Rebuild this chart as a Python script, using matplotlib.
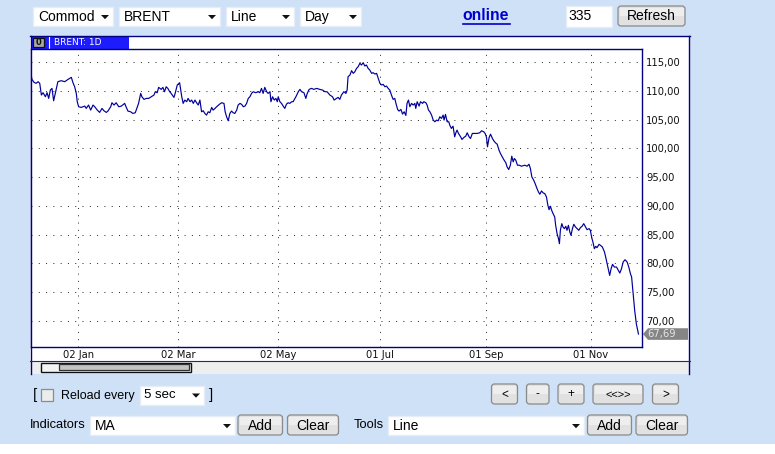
import matplotlib
matplotlib.use("Agg")
import matplotlib.pyplot as plt
from matplotlib.patches import Rectangle, FancyBboxPatch, Polygon

plt.rcParams["font.family"] = ["Liberation Sans", "DejaVu Sans"]
CHART_FONT = ["DejaVu Sans"]

# ---- data: BRENT daily close, x = trading session index in the window ----
SESSION = [
    0.0, 0.4, 1.3, 2.2, 3.0, 3.7, 4.4, 5.1, 6.1, 6.8, 7.5, 8.2, 8.9, 9.6, 10.3, 11.4,
    12.8, 14.3, 15.7, 17.1, 17.8, 18.5, 19.2, 19.6, 20.2, 21.3, 22.8, 23.4, 24.4, 25.3,
    26.3, 27.0, 28.1, 29.1, 30.1, 30.9, 31.9, 32.6, 33.8, 34.3, 35.2, 36.1, 37.2, 38.3,
    39.7, 40.4, 41.1, 42.2, 43.2, 44.2, 45.0, 45.6, 46.5, 47.0, 47.9, 48.9, 49.9, 51.0,
    52.1, 52.7, 53.5, 54.1, 55.2, 55.9, 56.6, 57.3, 58.0, 58.8, 59.4, 60.6, 61.1, 62.0,
    63.0, 63.9, 64.5, 65.2, 66.0, 66.6, 67.4, 68.1, 68.8, 69.5, 70.2, 70.9, 71.6, 72.3,
    73.0, 73.7, 74.4, 75.1, 75.8, 76.6, 77.2, 78.0, 78.7, 79.8, 80.8, 81.8, 82.3, 82.9,
    83.6, 84.3, 85.0, 85.7, 86.4, 87.2, 87.8, 88.6, 89.3, 90.0, 90.7, 91.4, 92.1, 92.8,
    93.5, 94.2, 95.3, 96.3, 97.0, 97.7, 98.4, 99.1, 99.9, 100.5, 101.3, 101.7, 102.4,
    103.1, 103.8, 104.4, 104.8, 105.5, 106.2, 106.9, 107.6, 108.3, 109.0, 109.7, 110.5,
    111.1, 112.3, 113.3, 114.0, 114.7, 115.7, 116.5, 117.1, 117.9, 118.9, 119.9, 121.1,
    122.4, 123.6, 124.6, 125.5, 126.7, 127.8, 128.5, 129.5, 130.2, 130.9, 131.6, 132.6,
    133.5, 134.0, 134.4, 135.2, 135.9, 136.6, 137.3, 138.0, 138.7, 139.4, 140.1, 140.8,
    141.5, 142.2, 142.9, 143.6, 144.4, 145.0, 145.8, 146.5, 147.2, 147.9, 148.6, 149.3,
    150.0, 150.7, 151.4, 152.1, 152.8, 153.5, 154.2, 154.7, 155.4, 156.0, 156.8, 157.5,
    158.2, 158.9, 159.4, 160.0, 160.6, 161.3, 162.0, 162.7, 163.1, 163.7, 164.5, 165.1,
    166.0, 166.5, 167.4, 167.9, 168.5, 169.1, 169.8, 170.5, 171.2, 171.9, 172.6, 173.3,
    174.0, 174.7, 175.1, 175.7, 176.4, 177.1, 177.5, 178.2, 178.9, 179.6, 180.1, 180.6,
    181.2, 182.1, 182.7, 183.5, 184.3, 184.9, 185.7, 186.3, 187.1, 188.1, 189.1, 190.2,
    191.0, 191.9, 192.5, 193.1, 193.5, 194.2, 194.8, 195.6, 196.2, 196.9, 197.6, 198.4,
    199.0, 199.9, 200.4, 201.3, 201.8, 202.5, 203.2, 203.8, 204.4, 204.9, 205.5, 206.2,
    206.9, 207.9, 209.3, 210.3, 211.1, 211.7, 212.3, 213.1, 213.7, 214.5, 215.1, 215.7,
    216.4, 217.1, 217.8, 218.5, 219.1, 219.6, 220.2, 220.7, 221.3, 222.0, 222.4, 223.0,
    223.6, 224.0, 224.4, 225.0, 225.5, 226.1, 226.7, 227.2, 227.8, 228.4, 228.9, 229.5,
    230.1, 230.8, 231.5, 232.2, 232.9, 233.6, 234.3, 235.2, 235.7, 236.6, 237.1, 237.7,
    238.2, 238.8, 239.4, 239.9, 240.8, 241.4, 242.2, 243.1, 243.6, 244.2, 244.8, 245.3,
    245.9, 246.5, 247.3, 248.2, 249.0, 249.6, 250.3, 251.0, 251.8, 252.7, 253.4, 254.1,
    254.6, 255.2, 255.9, 256.6, 257.5,
]
PRICE = [
    112.96, 112.03, 111.51, 111.34, 111.63, 111.34, 109.30, 109.71, 109.01, 109.71,
    108.72, 110.17, 110.46, 108.31, 109.59, 111.63, 111.80, 111.63, 112.03, 112.38,
    111.45, 110.75, 109.59, 108.14, 107.27, 107.15, 107.38, 106.98, 107.56, 106.68,
    107.56, 107.27, 106.68, 106.28, 106.98, 106.57, 106.28, 106.51, 107.27, 107.96,
    107.56, 107.96, 107.27, 107.38, 107.85, 107.15, 106.51, 106.39, 106.10, 106.22,
    107.15, 107.85, 109.59, 109.01, 108.55, 108.72, 108.72, 109.01, 109.30, 109.88,
    109.71, 110.64, 110.29, 110.64, 109.88, 110.75, 110.46, 109.88, 109.59, 108.89,
    109.59, 111.05, 111.45,
    109.01, 107.85, 108.43, 108.14, 108.72, 108.14, 108.43, 107.85, 108.43, 107.96,
    107.56, 108.43, 106.39, 106.57, 106.10, 105.81, 106.39, 106.22, 107.15, 106.68,
    106.98, 107.27, 107.67, 107.96, 107.85, 106.39, 105.52, 104.82, 106.10, 106.51,
    106.22, 106.10, 106.68, 107.56, 107.85, 107.67, 107.27, 107.38, 107.85, 108.72,
    109.01, 109.59, 109.88, 109.71, 109.88, 109.71, 110.46, 109.59, 110.64, 109.88,
    109.59, 109.88, 108.14, 109.01, 108.43, 108.72, 108.14, 109.01, 108.14, 107.85,
    107.38, 106.98, 107.73, 107.96, 107.85, 108.14, 108.14, 109.01, 109.88, 110.29,
    109.88, 109.71, 108.72, 109.59, 110.29, 110.46, 110.29, 110.46, 110.29, 110.17,
    109.88, 109.88, 109.30, 109.01, 108.43, 108.72, 108.89,
    108.55, 109.30, 109.88, 109.59, 110.17, 112.50, 112.79, 113.55, 113.08, 113.37,
    113.95, 114.24, 114.83, 114.53, 114.94, 114.36, 114.53, 113.95, 113.66, 113.08,
    113.20, 112.96, 113.08, 112.21, 111.34, 111.05, 111.16, 110.75, 110.87, 110.46,
    110.17, 109.30, 108.55, 108.72, 107.85, 106.80, 106.51, 106.80, 105.99, 106.39,
    105.75, 107.85, 108.43, 107.27, 107.85, 107.56, 107.85, 106.98, 108.14, 107.38,
    108.14, 107.85, 108.14, 107.96, 107.56, 106.68, 106.39, 105.81, 104.94, 104.65,
    104.94, 104.82, 105.52, 105.23, 105.81, 104.94, 105.93, 104.65, 104.65, 104.07,
    103.49, 103.89, 102.03, 102.73, 103.20, 102.62, 102.03, 101.57, 101.92, 102.15,
    102.73, 102.03, 101.74, 102.62, 102.62, 102.62, 102.73, 103.08, 102.91, 102.62,
    101.92, 100.29, 101.92,
    102.49, 101.74, 101.33, 100.98, 100.75, 99.70, 99.12, 98.42, 98.07, 97.49, 96.80,
    96.33, 97.09, 98.66, 97.67, 98.25, 97.96, 97.09, 97.09, 96.91, 97.09, 96.91, 97.26,
    96.50, 95.05, 94.47, 93.89, 93.01, 92.43, 92.03, 92.61, 92.26, 92.14, 91.56, 90.11,
    89.35, 89.94, 89.24, 88.66, 88.07, 86.62, 85.17, 84.30, 83.42, 85.75, 86.91, 86.33,
    86.04, 86.45, 85.75, 86.62, 85.46, 84.88, 86.04, 86.80, 86.33, 86.04, 85.75, 86.22,
    86.45, 86.91, 86.22, 85.87, 86.04, 85.75, 84.47, 83.71, 82.55, 82.96, 82.73, 83.31,
    83.13, 82.84, 81.97, 81.10, 79.94, 78.77, 77.90, 79.06, 79.82, 79.35, 79.35, 78.77,
    78.31, 79.06, 80.23, 80.63, 80.23, 79.35, 78.19, 77.61, 75.00, 71.80, 69.47, 67.69,
]
TICK_SESSION = [20.0, 62.4, 104.8, 147.9, 193.0, 237.3]
TICK_LABEL = ["02 Jan", "02 Mar", "02 May", "01 Jul", "01 Sep", "01 Nov"]
Y_TICKS = [70, 75, 80, 85, 90, 95, 100, 105, 110, 115]
SYMBOL = "BRENT: 1D"

W, H = 775, 454
BG = "#cfe1f7"
NAVY = "#000080"
LINE = "#00009a"
TAB = "#1c1cff"

fig = plt.figure(figsize=(W / 100, H / 100), dpi=100, facecolor=BG)
bg = fig.add_axes([0, 0, 1, 1])
bg.set_xlim(0, W); bg.set_ylim(H, 0); bg.axis("off")
bg.add_patch(Rectangle((0, 444), W, 10, fc="white", ec="none"))


def select(x0, x1, y0, y1, label, fs=10):
    bg.add_patch(Rectangle((x0, y0), x1 - x0, y1 - y0, fc="white", ec="#e6edf6", lw=1))
    bg.text(x0 + 5, (y0 + y1) / 2 + 0.5, label, fontsize=fs, va="center", ha="left")
    ax_ = x1 - 8
    ym = (y0 + y1) / 2 + 0.5
    bg.add_patch(Polygon([(ax_ - 4, ym - 2), (ax_ + 4, ym - 2), (ax_, ym + 2.2)],
                         closed=True, fc="#111111", ec="none"))


def button(x0, x1, y0, y1, label, fs=10):
    bg.add_patch(FancyBboxPatch((x0 + 1, y0 + 1), x1 - x0 - 2, y1 - y0 - 2,
                                boxstyle="round,pad=0,rounding_size=3",
                                fc="#e1e1e1", ec="#8a8a8a", lw=0.9))
    bg.add_patch(Rectangle((x0 + 2.5, y0 + 2.5), x1 - x0 - 5, (y1 - y0) / 2 - 3,
                           fc="#eeeeee", ec="none"))
    bg.text((x0 + x1) / 2, (y0 + y1) / 2 + 0.5, label, fontsize=fs, ha="center", va="center")


# ---- top controls ----
select(33, 113, 7, 26, "Commod")
select(119, 220, 7, 26, "BRENT")
select(226, 294, 7, 26, "Line")
select(300, 361, 7, 26, "Day")
bg.text(486, 16, "online", fontsize=11.3, fontweight="bold", color="#0000cc",
        ha="center", va="center")
bg.plot([463, 510], [23.5, 23.5], color="#0000cc", lw=1.2)
bg.add_patch(Rectangle((565.5, 5.5), 46, 21, fc="white", ec="#e6edf6", lw=1))
bg.text(568.5, 16.5, "335", fontsize=10, va="center")
button(617, 686, 5, 27, "Refresh")

# ---- chart panel ----
bg.add_patch(Rectangle((30, 35.5), 659, 325, fc="white", ec="none"))
bg.add_patch(Rectangle((30, 360.5), 659, 13.5, fc="#eeeeee", ec="none"))
bg.plot([30.5, 30.5], [35.5, 374], color=NAVY, lw=1)
bg.plot([689, 689], [35.5, 374], color=NAVY, lw=1)
bg.plot([30, 689.5], [35.5, 35.5], color=NAVY, lw=1)
bg.plot([30, 689.5], [360.5, 360.5], color="#1a2a80", lw=0.8)
bg.add_patch(Rectangle((30.5, 35.5), 98, 13, fc=TAB, ec="none"))
bg.add_patch(Rectangle((32.5, 37.5), 11.5, 9.5, fc="#a8a8a8", ec="#101010", lw=0.9))
bg.text(38.3, 42.4, "0", fontsize=6, fontweight="bold", ha="center", va="center",
        color="#111111", family=CHART_FONT)
bg.plot([48.5, 48.5], [36.5, 47.5], color="white", lw=0.8)
bg.text(54, 42.3, SYMBOL, fontsize=6.5, color="white", va="center", ha="left",
        family=CHART_FONT)
# scrollbar
bg.add_patch(Rectangle((40.5, 362.5), 150, 9.5, fc="#f4f4f4", ec="#111111", lw=1))
bg.add_patch(Rectangle((58.5, 364.3), 130, 6, fc="#c4c4c4", ec="#333333", lw=0.9))

ax = fig.add_axes([31 / W, 1 - 346.5 / H, 611 / W, 297.5 / H])
ax.set_facecolor("white")
ax.plot(SESSION, PRICE, color=LINE, lw=0.85)
ax.set_xlim(0, 259)
ax.set_ylim(65.52, 117.32)
ax.set_xticks(TICK_SESSION)
ax.set_xticklabels(TICK_LABEL, family=CHART_FONT)
ax.set_yticks(Y_TICKS)
ax.set_yticklabels([f"{v:.2f}".replace(".", ",") for v in Y_TICKS], family=CHART_FONT)
ax.yaxis.tick_right()
ax.tick_params(length=0, labelsize=7.2, colors="#111111")
ax.tick_params(axis="y", pad=3)
ax.tick_params(axis="x", pad=2.5)
ax.grid(True, color="#222222", linestyle=(0, (1, 6.5)), lw=0.7)
for s in ax.spines.values():
    s.set_color(NAVY); s.set_linewidth(1)

# last value tag
fig.canvas.draw()
yd = ax.transData.transform((0, PRICE[-1]))[1]
ypx = bg.transData.inverted().transform((0, yd))[1]
bg.add_patch(Polygon([(643, ypx), (648, ypx - 5.8), (688, ypx - 5.8), (688, ypx + 5.8),
                      (648, ypx + 5.8)], closed=True, fc="#858585", ec="none"))
bg.text(647.5, ypx + 0.3, f"{PRICE[-1]:.2f}".replace(".", ","), fontsize=7.2,
        color="#e6e6e6", va="center", ha="left", family=CHART_FONT)

# ---- bottom controls ----
bg.text(33, 395, "[", fontsize=11, va="center")
bg.add_patch(Rectangle((41, 388.5), 12, 12, fc="#ececec", ec="#8c8c8c", lw=0.9))
bg.text(61, 395.5, "Reload every", fontsize=9, va="center")
select(139.5, 204, 385.5, 404.5, "5 sec", fs=9.5)
bg.text(208.5, 395, "]", fontsize=11, va="center")

button(490.5, 518.5, 383, 405, "<", fs=8.5)
button(525.5, 550, 383, 405, "-", fs=8.5)
button(557, 585, 383, 405, "+", fs=8.5)
button(592, 644, 383, 405, "<<>>", fs=8)
button(651.5, 679.5, 383, 405, ">", fs=8.5)

bg.text(30, 425.5, "Indicators", fontsize=9.3, va="center")
select(90, 235, 416, 435, "MA")
button(237, 283.5, 414, 436, "Add")
button(286.5, 339.5, 414, 436, "Clear")
bg.text(354, 425.5, "Tools", fontsize=9.3, va="center")
select(388, 584, 416, 435, "Line")
button(586.5, 632.5, 414, 436, "Add")
button(635, 688.5, 414, 436, "Clear")

fig.savefig("out.png", dpi=100, facecolor=BG)
